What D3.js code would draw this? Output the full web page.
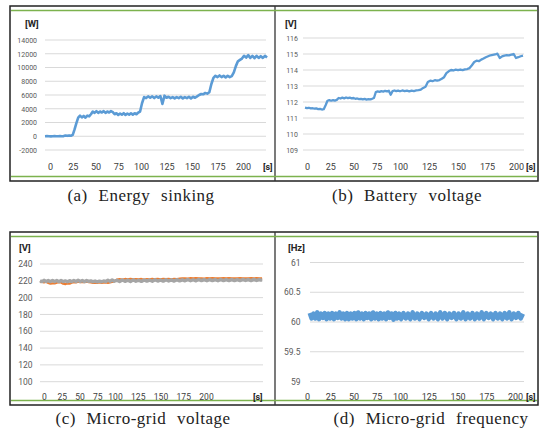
<!DOCTYPE html>
<html>
<head>
<meta charset="utf-8">
<script src="https://cdn.jsdelivr.net/npm/d3@7"></script>
<style>
  body { margin: 0; background: #fff; }
  svg { display: block; }
</style>
</head>
<body>
<div id="chart"></div>
<script>
// tick labels shared by every panel
const timeTicks = [0, 25, 50, 75, 100, 125, 150, 175, 200];
const energyTicks = [-2000, 0, 2000, 4000, 6000, 8000, 10000, 12000, 14000];
const batteryTicks = [109, 110, 111, 112, 113, 114, 115, 116];
const gridVoltTicks = [100, 120, 140, 160, 180, 200, 220, 240];
const freqTicks = [59, 59.5, 60, 60.5, 61];

// (a) energy sinking [W], one sample every 2 s starting at -5 s
const energyStart = -5, energyStep = 2;
const energyW = [
  0, 20, 0, -20, 0, 20, 0, -10, 20, 0,
  20, 100, 60, 120, 80, 200, 1000, 1900, 2700, 3000,
  2750, 2950, 2700, 3000, 2900, 3200, 3600, 3400, 3650, 3400,
  3600, 3450, 3650, 3400, 3600, 3450, 3650, 3500, 3200, 3350,
  3100, 3300, 3150, 3350, 3100, 3300, 3150, 3350, 3150, 3350,
  3200, 3450, 3600, 4800, 5700, 5550, 5800, 5600, 5800, 5550,
  5800, 5600, 5850, 4700, 5900, 5600, 5750, 5550, 5700, 5500,
  5700, 5550, 5750, 5500, 5700, 5550, 5750, 5500, 5750, 5600,
  5800, 6000, 6150, 6100, 6300, 6200, 6400, 7600, 8500, 8800,
  8600, 8850, 8600, 8800, 8550, 8800, 8600, 8750, 9300, 10200,
  10900, 11100, 11300, 11700, 11450, 11800, 11400, 11700, 11350, 11700,
  11400, 11650, 11400, 11700, 11450
];

// (b) battery voltage [V], every 2 s from -2 s
const batteryStart = -2, batteryStep = 2;
const batteryV = [
  111.65, 111.62, 111.64, 111.6, 111.61, 111.58, 111.6, 111.56, 111.57, 111.53,
  111.55, 111.8, 112.08, 112.12, 112.08, 112.12, 112.09, 112.13, 112.25, 112.22,
  112.27, 112.23, 112.28, 112.24, 112.27, 112.23, 112.25, 112.2, 112.22, 112.18,
  112.2, 112.16, 112.19, 112.15, 112.18, 112.16, 112.2, 112.25, 112.62, 112.66,
  112.63, 112.68, 112.65, 112.7, 112.66, 112.7, 112.45, 112.68, 112.72, 112.68,
  112.71, 112.67, 112.72, 112.68, 112.71, 112.67, 112.71, 112.68, 112.72, 112.74,
  112.78, 112.88, 112.95, 113.25, 113.33, 113.3, 113.36, 113.33, 113.37, 113.45,
  113.55, 113.8, 113.92, 114.0, 113.97, 114.02, 113.99, 114.03, 113.99, 114.04,
  114.06, 114.12, 114.3, 114.5, 114.58, 114.55, 114.65, 114.72, 114.8, 114.86,
  114.92, 114.95, 114.97, 115.02, 114.75, 114.85, 114.9, 114.93, 114.92, 114.96,
  115.0, 114.75, 114.8, 114.86, 114.9
];

// (c) micro-grid voltage [V], two phases, every 3 s from -6 s
const gridStart = -6, gridStep = 3;
const gridOrange = [
  218.5, 219, 218, 218.8, 217.5, 216.5, 217, 216.8, 217.8, 218.5,
  218, 216.5, 216, 217, 216.5, 217.8, 218.5, 218, 219, 218.5,
  218.8, 218.3, 219, 218.5, 218, 217.5, 217.8, 217.5, 218, 217.6,
  217.8, 218, 217.6, 218.2, 218.6, 219.2, 221.5, 222, 221.6, 222.2,
  221.8, 222.3, 221.7, 222, 221.8, 222.2, 221.6, 222, 221.8, 222.3,
  221.9, 222.2, 221.8, 222.4, 222, 222.3, 221.9, 222.4, 222.1, 222.5,
  222.8, 223, 222.7, 223.1, 222.8, 223.2, 222.9, 223, 222.7, 223.1,
  222.8, 223.2, 222.9, 223, 222.8, 223.1, 222.9, 223.2, 222.8, 223,
  222.9, 223.1, 222.8, 223, 222.9, 223.2, 222.8, 223.1, 222.9, 223
];
const gridGray = [
  220.2, 219, 220.6, 219.2, 220.4, 219, 220.5, 219.1, 220.3, 219,
  220.4, 219.1, 219.9, 218.9, 220.2, 219, 220.5, 219.2, 220.6, 219.1,
  220.3, 219, 220.4, 219.3, 219.9, 218.9, 219.7, 218.8, 219.6, 218.9,
  219.8, 219.1, 220.8, 219.3, 221.1, 219.5, 220.7, 219.1, 221, 219.4,
  220.8, 219.2, 221.1, 219.5, 220.7, 219.3, 221, 219.6, 220.9, 219.5,
  221.2, 219.7, 221, 219.6, 221.3, 219.8, 221.1, 219.7, 221.4, 219.9,
  221.2, 220, 221.5, 220.1, 221.3, 220, 221.6, 220.2, 221.4, 220.1,
  221.5, 220.2, 221.3, 220.1, 221.6, 220.3, 221.4, 220.2, 221.5, 220.3,
  221.4, 220.2, 221.6, 220.4, 221.5, 220.3, 221.7, 220.4, 221.5, 220.5
];

// (d) micro-grid frequency [Hz], every 2 s from 3 s
const freqStart = 3, freqStep = 2;
const freqHz = [
  60.15, 60.06, 60.14, 60.06, 60.16, 60.05, 60.14, 60.07, 60.15, 60.05,
  60.14, 60.06, 60.15, 60.05, 60.14, 60.07, 60.16, 60.06, 60.14, 60.05,
  60.15, 60.05, 60.14, 60.06, 60.15, 60.05, 60.16, 60.06, 60.14, 60.05,
  60.15, 60.07, 60.14, 60.05, 60.16, 60.06, 60.14, 60.05, 60.15, 60.06,
  60.14, 60.05, 60.16, 60.07, 60.14, 60.04, 60.15, 60.06, 60.14, 60.05,
  60.15, 60.06, 60.14, 60.05, 60.16, 60.06, 60.14, 60.05, 60.15, 60.07,
  60.14, 60.05, 60.15, 60.06, 60.14, 60.05, 60.16, 60.06, 60.15, 60.05,
  60.14, 60.07, 60.15, 60.05, 60.14, 60.06, 60.16, 60.05, 60.14, 60.06,
  60.15, 60.05, 60.14, 60.06, 60.16, 60.05, 60.15, 60.07, 60.14, 60.05,
  60.15, 60.06, 60.14, 60.05, 60.15, 60.06, 60.16, 60.05, 60.14, 60.07,
  60.15, 60.06, 60.14
];

const W = 541, H = 430;
const tickFont = "Roboto, 'Liberation Sans', sans-serif";
const capFont = "'Liberation Serif', 'DejaVu Serif', serif";

const svg = d3.select("#chart").append("svg")
  .attr("width", W).attr("height", H);

// frames: black box per row, a divider, and the green rules inside
function drawFrame(top, bottom) {
  svg.append("rect")
    .attr("x", 10).attr("y", top)
    .attr("width", 528).attr("height", bottom - top)
    .attr("fill", "none").attr("stroke", "#222").attr("stroke-width", 1.5);
  svg.append("line")
    .attr("x1", 275).attr("x2", 275).attr("y1", top).attr("y2", bottom)
    .attr("stroke", "#333").attr("stroke-width", 1.3);
  [top + 4.5, bottom - 4.5].forEach(function (gy) {
    svg.append("line")
      .attr("x1", 11).attr("x2", 537).attr("y1", gy).attr("y2", gy)
      .attr("stroke", "#7cb24e").attr("stroke-width", 1.3);
  });
}
drawFrame(6, 181);
drawFrame(232, 405);

/**
 * Draw one sub-chart
 * @param {object} p - scales, tick sets, label spots and series
 */
function drawPanel(p) {
  let g = svg.append("g");

  // gridlines
  g.selectAll("line.grid")
    .data(p.yTicks)
    .join("line")
    .attr("class", "grid")
    .attr("x1", p.gridX[0]).attr("x2", p.gridX[1])
    .attr("y1", d => p.y(d)).attr("y2", d => p.y(d))
    .attr("stroke", "#d9d9d9").attr("stroke-width", 1);

  // y labels
  let ya = g.append("g")
    .attr("transform", "translate(" + p.yLabelX + ",0)")
    .call(d3.axisLeft(p.y).tickValues(p.yTicks).tickSize(0).tickPadding(0)
      .tickFormat(d => String(d)));
  ya.select(".domain").remove();
  ya.attr("font-family", tickFont).attr("font-size", p.yFont);
  ya.selectAll("text").attr("fill", "#595959");

  // x labels
  let xa = g.append("g")
    .attr("transform", "translate(0," + p.xLabelY + ")")
    .call(d3.axisBottom(p.x).tickValues(timeTicks).tickSize(0).tickPadding(0));
  xa.select(".domain").remove();
  xa.attr("font-family", tickFont).attr("font-size", p.xFont);
  xa.selectAll("text").attr("y", 0).attr("dy", "0.35em").attr("fill", "#404040");

  // units
  g.append("text")
    .attr("x", p.unitPos[0]).attr("y", p.unitPos[1])
    .attr("dy", "0.35em")
    .attr("font-family", tickFont).attr("font-weight", "bold")
    .attr("font-size", 9.5).attr("fill", "#262626")
    .text(p.unit);
  g.append("text")
    .attr("x", p.sPos[0]).attr("y", p.xLabelY)
    .attr("dy", "0.35em")
    .attr("font-family", tickFont).attr("font-weight", "bold")
    .attr("font-size", 9).attr("fill", "#262626")
    .text("[s]");

  // series
  p.series.forEach(function (s) {
    let line = d3.line()
      .x((d, i) => p.x(s.start + i * s.step))
      .y(d => p.y(d));
    g.append("path")
      .datum(s.values)
      .attr("d", line)
      .attr("fill", "none")
      .attr("stroke", s.color)
      .attr("stroke-width", s.width)
      .attr("stroke-linejoin", "round");
  });

  // caption
  svg.append("text")
    .attr("x", p.caption[1]).attr("y", p.caption[2])
    .attr("text-anchor", "middle")
    .attr("font-family", capFont).attr("font-size", 17)
    .attr("word-spacing", 6).attr("letter-spacing", 0.5)
    .attr("fill", "#222")
    .text(p.caption[0]);
}

// (a)
drawPanel({
  x: d3.scaleLinear().domain([-5, 0, 100, 200, 222]).range([45, 50, 141, 243, 266]),
  y: d3.scaleLinear().domain([-2000, 14000]).range([150, 40]),
  yTicks: energyTicks, gridX: [45, 266],
  yLabelX: 37, xLabelY: 167, yFont: 7, xFont: 9,
  unit: "[W]", unitPos: [25, 24], sPos: [263, 0],
  series: [{ values: energyW, start: energyStart, step: energyStep, color: "#5b9bd5", width: 2.6 }],
  caption: ["(a) Energy sinking", 141, 201]
});

// (b)
drawPanel({
  x: d3.scaleLinear().domain([-2, 0, 100, 200, 206]).range([305, 307, 400, 516, 523]),
  y: d3.scaleLinear().domain([109, 116]).range([150, 38]),
  yTicks: batteryTicks, gridX: [303, 524],
  yLabelX: 298, xLabelY: 167, yFont: 7, xFont: 9,
  unit: "[V]", unitPos: [285, 24], sPos: [526, 0],
  series: [{ values: batteryV, start: batteryStart, step: batteryStep, color: "#5b9bd5", width: 2.3 }],
  caption: ["(b) Battery voltage", 407, 201]
});

// (c)
drawPanel({
  x: d3.scaleLinear().domain([-6, 0, 100, 200, 262]).range([40, 44, 115, 206, 263]),
  y: d3.scaleLinear().domain([100, 240]).range([381.7, 264]),
  yTicks: gridVoltTicks, gridX: [40, 263],
  yLabelX: 32.5, xLabelY: 397, yFont: 8.5, xFont: 8.5,
  unit: "[V]", unitPos: [19, 248], sPos: [253, 0],
  series: [
    { values: gridOrange, start: gridStart, step: gridStep, color: "#ed7d31", width: 2.2 },
    { values: gridGray, start: gridStart, step: gridStep, color: "#a5a5a5", width: 3.4 }
  ],
  caption: ["(c) Micro-grid voltage", 143, 424]
});

// (d)
drawPanel({
  x: d3.scaleLinear().domain([0, 100, 200, 208]).range([307, 400, 515, 524]),
  y: d3.scaleLinear().domain([59, 61]).range([381.5, 262.5]),
  yTicks: freqTicks, gridX: [310, 524],
  yLabelX: 300.5, xLabelY: 397, yFont: 8.5, xFont: 9,
  unit: "[Hz]", unitPos: [288, 248], sPos: [526, 0],
  series: [{ values: freqHz, start: freqStart, step: freqStep, color: "#5b9bd5", width: 4.6 }],
  caption: ["(d) Micro-grid frequency", 431, 424]
});
</script>
</body>
</html>
